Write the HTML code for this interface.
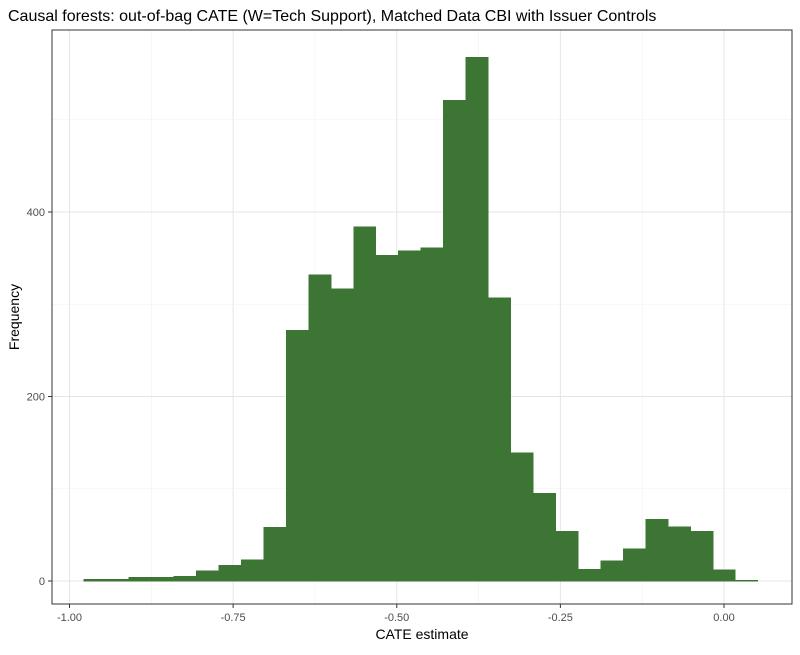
<!DOCTYPE html>
<html><head><meta charset="utf-8"><style>
body{margin:0;background:#fff;font-family:"Liberation Sans",sans-serif}
</style></head><body>
<svg id="chart" width="800" height="650" xmlns="http://www.w3.org/2000/svg">
<text x="8" y="21" font-size="16" fill="#000">Causal forests: out-of-bag CATE (W=Tech Support), Matched Data CBI with Issuer Controls</text>
<g id="grid"></g><g id="bars"></g><g id="axes"></g>
<rect x="52" y="30" width="740" height="574" fill="none" stroke="#333" stroke-width="1"/>
<text x="422" y="639" font-size="14" text-anchor="middle">CATE estimate</text>
<text transform="translate(19,317) rotate(-90)" font-size="14" text-anchor="middle">Frequency</text>
</svg>
<script>
const counts=[2,2,4,4,5,11,17,23,58,272,332,317,384,353,358,361,521,568,307,139,95,54,13,22,35,67,59,54,12,1];
const binStart=-0.978;
const binWidth=0.03433;
const xTicks=[-1,-0.75,-0.5,-0.25,0];
const xTickLabels=["-1.00","-0.75","-0.50","-0.25","0.00"];
const yTicks=[0,200,400];
const ns="http://www.w3.org/2000/svg";
function X(v){return 724+v*654.5;}
function Y(v){return 581-v*0.9225;}
function mk(t,a,p){const e=document.createElementNS(ns,t);for(const k in a)e.setAttribute(k,a[k]);p.appendChild(e);return e;}
const grid=document.getElementById('grid'),bars=document.getElementById('bars'),axes=document.getElementById('axes');
for(let i=0;i<xTicks.length;i++){
  const x=X(xTicks[i]);
  const l=mk('line',{x1:x,x2:x,y1:30,y2:604,stroke:'#e5e5e5','stroke-width':1},grid);
  
  
  if(i<xTicks.length-1){const xm=X((xTicks[i]+xTicks[i+1])/2);
    const m=mk('line',{x1:xm,x2:xm,y1:30,y2:604,stroke:'#f2f2f2','stroke-width':0.6},grid);
    
    }
  mk('line',{x1:x,x2:x,y1:604,y2:608,stroke:'#333'},axes);
  const t=mk('text',{x:x,y:621,'font-size':11,'text-anchor':'middle',fill:'#4d4d4d'},axes);
  t.textContent=xTickLabels[i];
  
  
}
for(let v=100;v<=500;v+=200){const m=mk('line',{x1:52,x2:792,y1:Y(v),y2:Y(v),stroke:'#f2f2f2','stroke-width':0.6},grid);
  
  }
yTicks.forEach(v=>{
  const y=Y(v);
  const l=mk('line',{x1:52,x2:792,y1:y,y2:y,stroke:'#e5e5e5'},grid);
  
  
  mk('line',{x1:48,x2:52,y1:y,y2:y,stroke:'#333'},axes);
  const t=mk('text',{x:45,y:y+4,'font-size':11,'text-anchor':'end',fill:'#4d4d4d'},axes);
  t.textContent=v;
  
  
});
counts.forEach((c,i)=>{
  const x0=X(binStart+i*binWidth),x1=X(binStart+(i+1)*binWidth);
  const r=mk('rect',{x:x0,y:Y(c),width:x1-x0,height:Y(0)-Y(c),fill:'#3d7535',stroke:'#3d7535','stroke-width':0.5,'shape-rendering':'crispEdges'},bars);
  
  
});
</script>
</body></html>
